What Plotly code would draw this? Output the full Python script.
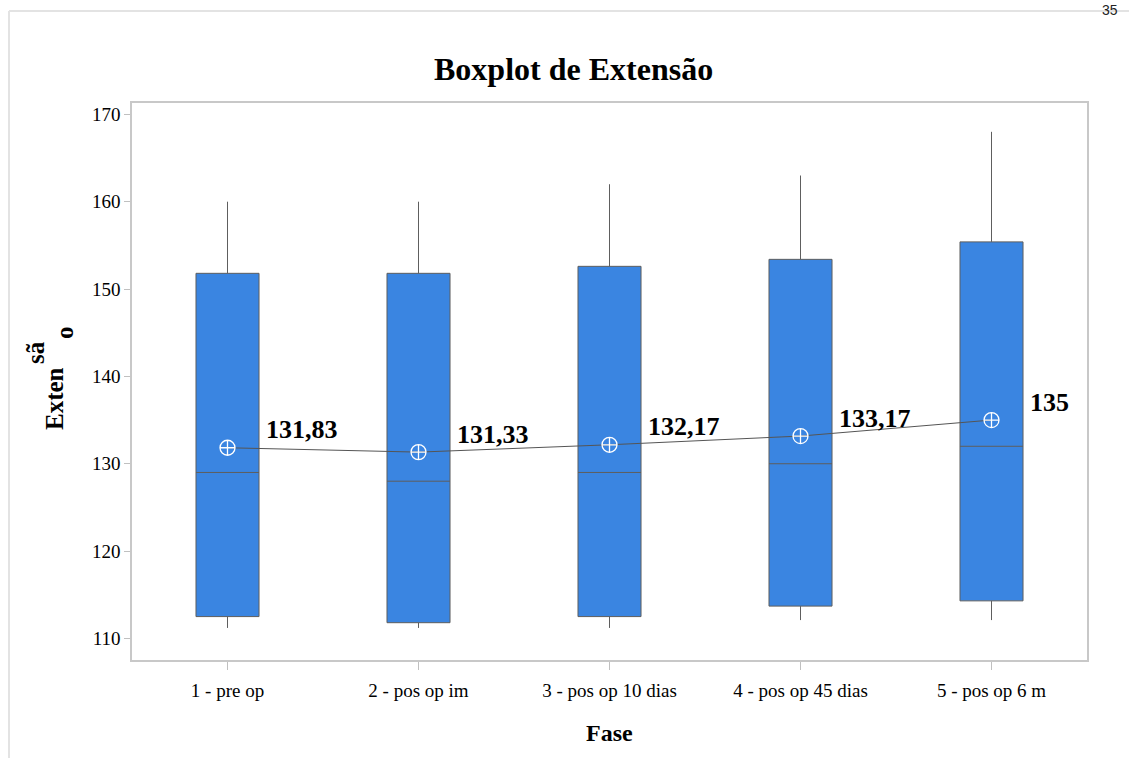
import plotly.graph_objects as go

# ---- data ----
phases = ["1 - pre op", "2 - pos op im", "3 - pos op 10 dias", "4 - pos op 45 dias", "5 - pos op 6 m"]
lower_whisker = [111.2, 111.2, 111.2, 112.1, 112.1]
q1 = [112.5, 111.8, 112.5, 113.7, 114.3]
median = [129, 128, 129, 130, 132]
q3 = [151.8, 151.8, 152.6, 153.4, 155.4]
upper_whisker = [160, 160, 162, 163, 168]
means = [131.83, 131.33, 132.17, 133.17, 135.0]
mean_labels = ["131,83", "131,33", "132,17", "133,17", "135"]
y_ticks = [110, 120, 130, 140, 150, 160, 170]

W, H = 1129, 758
L, R, T, B = 132, 1087, 103, 660
PW, PH = R - L, B - T


def px(x):
    return (x - L) / PW


def py(y):
    return (B - y) / PH


SERIF = "Liberation Serif"
BOX_FILL = "#3A85E1"
BOX_LINE = "#5E5E5E"

fig = go.Figure()
xs = list(range(len(phases)))
for i in xs:
    fig.add_trace(go.Box(
        x=[i], q1=[q1[i]], median=[median[i]], q3=[q3[i]],
        lowerfence=[lower_whisker[i]], upperfence=[upper_whisker[i]],
        width=0.33, whiskerwidth=0,
        fillcolor=BOX_FILL, line=dict(color=BOX_LINE, width=1),
        boxpoints=False, showlegend=False, hoverinfo="skip",
    ))

fig.add_trace(go.Scatter(
    x=xs, y=means, mode="lines",
    line=dict(color="#555555", width=1), showlegend=False, hoverinfo="skip",
))
fig.add_trace(go.Scatter(
    x=xs, y=means, mode="markers",
    marker=dict(symbol="circle-cross-open", size=15, color="white",
                line=dict(color="white", width=1.3)),
    showlegend=False, hoverinfo="skip",
))

for i in xs:
    fig.add_annotation(
        x=i, y=means[i], xref="x", yref="y", text="<b>%s</b>" % mean_labels[i],
        showarrow=False, xanchor="left", yanchor="middle",
        xshift=36, yshift=18,
        font=dict(family=SERIF, size=26, color="black"),
    )

# title
fig.add_annotation(x=px(573), y=py(69), xref="paper", yref="paper",
                   text="<b>Boxplot de Extensão</b>", showarrow=False,
                   xanchor="center", yanchor="middle",
                   font=dict(family=SERIF, size=32, color="black"))
# x axis title
fig.add_annotation(x=px(609), y=py(733), xref="paper", yref="paper",
                   text="<b>Fase</b>", showarrow=False,
                   xanchor="center", yanchor="middle",
                   font=dict(family=SERIF, size=24, color="black"))
# y axis title (broken rendering as in the source)
for txt, xx, yy in [("Exten", 54, 399), ("sã", 35, 353), ("o", 64, 333)]:
    fig.add_annotation(x=px(xx), y=py(yy), xref="paper", yref="paper",
                       text="<b>%s</b>" % txt, showarrow=False, textangle=-90,
                       xanchor="center", yanchor="middle",
                       font=dict(family=SERIF, size=25, color="black"))
# page number (cut by the page top in the source)
fig.add_annotation(x=px(1110), y=py(0), xref="paper", yref="paper",
                   text="35", showarrow=False, xanchor="center", yanchor="top",
                   font=dict(family="Liberation Sans", size=14, color="#222222"))

# outer page frame
fig.add_shape(type="line", xref="paper", yref="paper",
              x0=px(9), x1=px(9), y0=py(758), y1=py(11),
              line=dict(color="#E3E3E3", width=2))
fig.add_shape(type="line", xref="paper", yref="paper",
              x0=px(9), x1=px(1129), y0=py(11), y1=py(11),
              line=dict(color="#E3E3E3", width=2))

fig.update_layout(
    width=W, height=H,
    margin=dict(l=L, r=W - R, t=T, b=H - B),
    paper_bgcolor="white", plot_bgcolor="white",
    showlegend=False,
    xaxis=dict(
        range=[-0.5, 4.5], tickvals=xs, ticktext=phases,
        showgrid=False, zeroline=False,
        showline=True, mirror=True, linecolor="#C8C8C8", linewidth=1.5,
        ticks="outside", ticklen=8, tickcolor="#C0C0C0",
        ticklabelstandoff=4,
        tickfont=dict(family=SERIF, size=19, color="black"),
    ),
    yaxis=dict(
        range=[107.53, 171.3], tickvals=y_ticks,
        showgrid=False, zeroline=False,
        showline=True, mirror=True, linecolor="#C8C8C8", linewidth=1.5,
        ticks="outside", ticklen=6, tickcolor="#C0C0C0",
        tickfont=dict(family=SERIF, size=19, color="black"),
    ),
)

fig.write_html("out.html", config={"displayModeBar": False},
               post_script="document.body.style.margin='0';")
